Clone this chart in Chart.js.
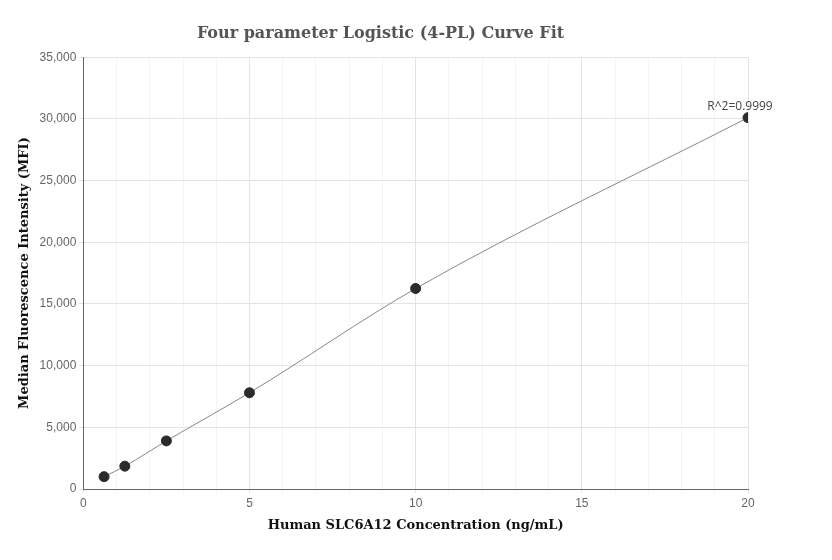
<!DOCTYPE html>
<html><head><meta charset="utf-8">
<script src="https://cdn.jsdelivr.net/npm/chart.js@4/dist/chart.umd.min.js"></script>
<style>body{margin:0;background:#fff}#w{width:832px;height:560px}</style>
</head><body><div id="w"><canvas id="c"></canvas></div>
<script>
const concentrations = [0.625, 1.25, 2.5, 5, 10, 20];
const mfiValues = [1000, 1850, 3900, 7800, 16250, 30100];
const r2Label = "R^2=0.9999";
const pts = concentrations.map((x,i)=>({x, y: mfiValues[i]}));
const labelPlugin = {
  id:'r2', afterDatasetsDraw(chart){
    const m = chart.getDatasetMeta(0).data[pts.length-1];
    const ctx = chart.ctx; ctx.save();
    ctx.font = '12px "Open Sans", sans-serif'; ctx.fillStyle='#444'; ctx.textAlign='center';
    ctx.fillText(r2Label, m.x-8, m.y-8); ctx.restore();
  }
};
new Chart(document.getElementById('c'), {
  type:'scatter',
  data:{datasets:[{data:pts, showLine:true, borderColor:'#888', borderWidth:1,
    cubicInterpolationMode:'monotone', pointRadius:5, pointHoverRadius:5,
    pointBackgroundColor:'#2b2b2b', pointBorderColor:'#2b2b2b'}]},
  options:{responsive:true, maintainAspectRatio:false, animation:false,
    layout:{padding:{left:13,right:84,top:14,bottom:23}},
    plugins:{legend:{display:false}, tooltip:{enabled:false},
      title:{display:true, text:'Four parameter Logistic (4-PL) Curve Fit', color:'#555',
        font:{family:'"DejaVu Serif", serif', size:16, weight:'bold'}, padding:{top:10,bottom:14}}},
    scales:{
      x:{type:'linear', min:0, max:20,
        ticks:{stepSize:1, autoSkip:false, maxRotation:0, color:'#666', font:{size:12},
          callback:v=> v%5===0 ? v : ''},
        grid:{color:c=> c.tick && c.tick.value%5===0 ? '#e4e4e4' : '#f4f4f4', drawTicks:true, tickLength:4},
        border:{color:'#666'},
        title:{display:true, text:'Human SLC6A12 Concentration (ng/mL)', color:'#111',
          font:{family:'"DejaVu Serif", serif', size:13, weight:'bold'}}},
      y:{min:0, max:35000,
        ticks:{stepSize:5000, color:'#666', font:{size:12}, callback:v=>v.toLocaleString('en-US')},
        grid:{color:'#e4e4e4', tickLength:4}, border:{color:'#666'},
        title:{display:true, text:'Median Fluorescence Intensity (MFI)', color:'#111',
          font:{family:'"DejaVu Serif", serif', size:13, weight:'bold'}}}
    }},
  plugins:[labelPlugin]
});
</script></body></html>
